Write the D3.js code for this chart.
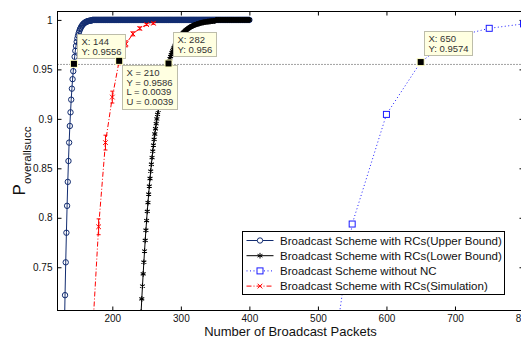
<!DOCTYPE html>
<html>
<head>
<meta charset="utf-8">
<script src="https://cdn.jsdelivr.net/npm/d3@7"></script>
<style>
  html, body { margin: 0; padding: 0; background: #fff; }
  svg { display: block; font-family: "Liberation Sans", Arial, Helvetica, sans-serif; }
</style>
</head>
<body>
<svg id="chart" width="521" height="337"></svg>
<script>
// x ticks / y ticks
const xTicks = [200, 300, 400, 500, 600, 700, 800]
const yTicks = [0.75, 0.8, 0.85, 0.9, 0.95, 1]
const yTickLabels = ['0.75', '0.8', '0.85', '0.9', '0.95', '1']

// upper bound: one value per packet count, starting at 130
const upperStart = 130
const upperRise = [
  0.685, 0.7218, 0.755, 0.7849, 0.8121, 0.8363, 0.8574, 0.876, 0.8928, 0.9066,
  0.9194, 0.9305, 0.9401, 0.9482, 0.9556, 0.9627, 0.9687, 0.9737, 0.9779, 0.9814,
  0.9844, 0.9869, 0.989, 0.9908, 0.9922, 0.9935, 0.9945, 0.9954, 0.9961, 0.9968,
  0.9973, 0.9977, 0.9981, 0.9984, 0.9986, 0.9989, 0.999, 0.9992, 0.9993, 0.9994,
  0.9995
]
const upperPlateau = [171, 400] // stays at 1 from..to

// lower bound: one value per packet count, starting at 242
const lowerStart = 242
const lowerRise = [
  0.7048, 0.718, 0.731, 0.7433, 0.7551, 0.7664, 0.7772, 0.7874, 0.7972, 0.8065,
  0.8154, 0.8239, 0.832, 0.8397, 0.8471, 0.8541, 0.8609, 0.8673, 0.8734, 0.8792,
  0.8847, 0.89, 0.8951, 0.8999, 0.9045, 0.9089, 0.9131, 0.9171, 0.9209, 0.9246,
  0.928, 0.9313, 0.9345, 0.9375, 0.9404, 0.9431, 0.9457, 0.9482, 0.951, 0.9536,
  0.956, 0.9584, 0.9607, 0.9629, 0.9649, 0.9668, 0.9687, 0.9704, 0.972, 0.9735,
  0.975, 0.9764, 0.9777, 0.9789, 0.98, 0.9811, 0.9822, 0.9831, 0.9841, 0.985,
  0.9858, 0.9866, 0.9873, 0.988, 0.9887, 0.9893, 0.9899, 0.9904, 0.991, 0.9915,
  0.9919, 0.9924, 0.9928, 0.9932, 0.9936, 0.9939, 0.9942, 0.9946, 0.9949, 0.9951,
  0.9954, 0.9957, 0.9959, 0.9961, 0.9963, 0.9965, 0.9967, 0.9969, 0.9971, 0.9972,
  0.9974, 0.9975, 0.9977, 0.9978, 0.9979, 0.998, 0.9981, 0.9982, 0.9983, 0.9984,
  0.9985, 0.9986, 0.9987, 0.9988, 0.9988, 0.9989, 0.999, 0.999, 0.9991
]
const lowerPlateau = [351, 400]

// without NC
const ncX = [500, 550, 600, 650, 700, 750, 800]
const ncY = [0.55, 0.7937, 0.9045, 0.9574, 0.983, 0.9915, 0.996]

// simulation with error bars
const simX = [170, 180, 190, 200, 210, 220, 230, 240, 250, 260]
const simY = [0.67, 0.7909, 0.876, 0.922, 0.9586, 0.9758, 0.9859, 0.9914, 0.9953, 0.9966]
const simErr = [0.009, 0.008, 0.0075, 0.006, 0.0039, 0.003, 0.002, 0.0015, 0.001, 0.001]

const refLevel = 0.955

// data tips
const tipX = [144, 210, 282, 650]
const tipY = [0.9556, 0.9586, 0.956, 0.9574]
const tipText = [
  ['X: 144', 'Y: 0.9556'],
  ['X = 210', 'Y = 0.9586', 'L = 0.0039', 'U = 0.0039'],
  ['X: 282', 'Y: 0.956'],
  ['X: 650', 'Y: 0.9574']
]
const tipOffset = [[3, -30], [3, 4], [4, -31], [3, -31]]

const legendNames = [
  'Broadcast Scheme with RCs(Upper Bound)',
  'Broadcast Scheme with RCs(Lower Bound)',
  'Broadcast Scheme without NC',
  'Broadcast Scheme with RCs(Simulation)'
]

const navy = '#122c70'
const ncBlue = '#1a1aff'
const red = '#ff0000'

const svg = d3.select('#chart')
const margin = { left: 57.5, top: 11.5, bottom: 310.5, right: 523.5 }

const x = d3.scaleLinear().domain([120, 800]).range([margin.left, margin.right])
const y = d3.scaleLinear().domain([0.7063, 1.0085]).range([margin.bottom, margin.top])

const upper = upperRise.map((v, i) => [upperStart + i, v])
  .concat(d3.range(upperPlateau[0], upperPlateau[1] + 1).map(n => [n, 1]))
const lower = lowerRise.map((v, i) => [lowerStart + i, v])
  .concat(d3.range(lowerPlateau[0], lowerPlateau[1] + 1).map(n => [n, 1]))
const nc = ncX.map((v, i) => [v, ncY[i]])
const sim = simX.map((v, i) => [v, simY[i], simErr[i]])

svg.append('defs').append('clipPath').attr('id', 'plot-clip')
  .append('rect')
  .attr('x', margin.left).attr('y', margin.top)
  .attr('width', margin.right - margin.left).attr('height', margin.bottom - margin.top)

// axes
const xAxis = g => g
  .attr('transform', `translate(0,${margin.bottom})`)
  .call(d3.axisBottom(x).tickValues(xTicks).tickSizeInner(-4).tickSizeOuter(0).tickPadding(4.5))
const xAxisTop = g => g
  .attr('transform', `translate(0,${margin.top})`)
  .call(d3.axisTop(x).tickValues(xTicks).tickSizeInner(-4).tickSizeOuter(0).tickFormat(''))
const yAxis = g => g
  .attr('transform', `translate(${margin.left},0)`)
  .call(d3.axisLeft(y).tickValues(yTicks).tickSizeInner(-4).tickSizeOuter(0).tickPadding(5)
    .tickFormat((d, i) => yTickLabels[i]))
const yAxisRight = g => g
  .attr('transform', `translate(${margin.right},0)`)
  .call(d3.axisRight(y).tickValues(yTicks).tickSizeInner(-4).tickSizeOuter(0).tickFormat(''))

;[xAxis, xAxisTop, yAxis, yAxisRight].forEach(a => {
  const g = svg.append('g').call(a)
  g.select('.domain').remove()
  g.selectAll('text').attr('font-size', 10).attr('fill', '#111')
    .attr('font-family', '"Liberation Sans", Arial, sans-serif')
})

const plot = svg.append('g').attr('clip-path', 'url(#plot-clip)')

const line = d3.line().x(d => x(d[0])).y(d => y(d[1]))

// upper bound
plot.append('path').datum(upper)
  .attr('fill', 'none').attr('stroke', navy).attr('stroke-width', 1).attr('d', line)
plot.append('g').selectAll('circle').data(upper).join('circle')
  .attr('cx', d => x(d[0])).attr('cy', d => y(d[1])).attr('r', 2.7)
  .attr('fill', 'none').attr('stroke', navy).attr('stroke-width', 1)

// lower bound
const asterisk = d3.symbol(d3.symbolAsterisk, 22)
plot.append('path').datum(lower)
  .attr('fill', 'none').attr('stroke', '#000').attr('stroke-width', 1).attr('d', line)
plot.append('g').selectAll('path').data(lower).join('path')
  .attr('transform', d => `translate(${x(d[0])},${y(d[1])})`)
  .attr('d', asterisk).attr('fill', 'none').attr('stroke', '#000').attr('stroke-width', 1.1)

// without NC
plot.append('path').datum(nc)
  .attr('fill', 'none').attr('stroke', ncBlue).attr('stroke-width', 1)
  .attr('stroke-dasharray', '1,2.5').attr('d', line)
plot.append('g').selectAll('rect').data(nc).join('rect')
  .attr('x', d => x(d[0]) - 3).attr('y', d => y(d[1]) - 3).attr('width', 6).attr('height', 6)
  .attr('fill', '#fff').attr('stroke', ncBlue).attr('stroke-width', 1)

// simulation
plot.append('path').datum(sim)
  .attr('fill', 'none').attr('stroke', red).attr('stroke-width', 1)
  .attr('stroke-dasharray', '5,2,1,2').attr('d', line)
const eb = plot.append('g').selectAll('g').data(sim).join('g')
  .attr('stroke', red).attr('stroke-width', 1).attr('fill', 'none')
eb.append('path').attr('d', d => {
  const cx = x(d[0]), y0 = y(d[1] - d[2]), y1 = y(d[1] + d[2])
  return `M${cx},${y0}V${y1}M${cx - 2},${y0}H${cx + 2}M${cx - 2},${y1}H${cx + 2}`
})
eb.append('path')
  .attr('transform', d => `translate(${x(d[0])},${y(d[1])})`)
  .attr('d', d3.symbol(d3.symbolX, 16))

// reference level
svg.append('line')
  .attr('x1', margin.left).attr('x2', margin.right)
  .attr('y1', y(refLevel)).attr('y2', y(refLevel))
  .attr('stroke', '#444').attr('stroke-width', 1).attr('stroke-dasharray', '1,2')

// frame
svg.append('rect')
  .attr('x', margin.left).attr('y', margin.top)
  .attr('width', margin.right - margin.left).attr('height', margin.bottom - margin.top)
  .attr('fill', 'none').attr('stroke', '#000').attr('stroke-width', 1)

// data tips
tipX.forEach((tx, i) => {
  const px = x(tx), py = y(tipY[i])
  svg.append('rect').attr('x', px - 4).attr('y', py - 4).attr('width', 8).attr('height', 8)
    .attr('fill', '#ffffc0')
  svg.append('rect').attr('x', px - 3).attr('y', py - 3).attr('width', 6).attr('height', 6)
    .attr('fill', '#000')
  const g = svg.append('g')
    .attr('transform', `translate(${Math.round(px + tipOffset[i][0]) + 0.5},${Math.round(py + tipOffset[i][1]) + 0.5})`)
  const box = g.append('rect').attr('fill', '#ffffe1').attr('stroke', '#bdbdaa').attr('stroke-width', 1)
  let w = 0
  tipText[i].forEach((t, j) => {
    const txt = g.append('text').attr('x', 4).attr('y', 10.5 + j * 9.7)
      .attr('font-size', 9.5).attr('fill', '#333').text(t)
    w = Math.max(w, txt.node().getComputedTextLength())
  })
  box.attr('width', Math.round(w + 8)).attr('height', Math.round(tipText[i].length * 9.7 + 5))
})

// legend
const lg = svg.append('g').attr('transform', 'translate(242.5,231.5)')
lg.append('rect').attr('width', 262).attr('height', 63).attr('fill', '#fff')
  .attr('stroke', '#000').attr('stroke-width', 1)
const legendStyles = [
  { stroke: navy, dash: null },
  { stroke: '#000', dash: null },
  { stroke: ncBlue, dash: '1,2.5' },
  { stroke: red, dash: '5,2,1,2' }
]
legendNames.forEach((name, i) => {
  const ly = 9 + i * 15.2
  const s = legendStyles[i]
  lg.append('line').attr('x1', 4).attr('x2', 31).attr('y1', ly).attr('y2', ly)
    .attr('stroke', s.stroke).attr('stroke-width', 1).attr('stroke-dasharray', s.dash)
  if (i === 0) {
    lg.append('circle').attr('cx', 17.5).attr('cy', ly).attr('r', 2.7)
      .attr('fill', '#fff').attr('stroke', navy)
  }
  else if (i === 1) {
    lg.append('path').attr('transform', `translate(17.5,${ly})`).attr('d', asterisk)
      .attr('fill', 'none').attr('stroke', '#000')
  }
  else if (i === 2) {
    lg.append('rect').attr('x', 14.5).attr('y', ly - 3).attr('width', 6).attr('height', 6)
      .attr('fill', '#fff').attr('stroke', ncBlue)
  }
  else {
    lg.append('path').attr('transform', `translate(17.5,${ly})`).attr('d', d3.symbol(d3.symbolX, 16))
      .attr('fill', 'none').attr('stroke', red)
  }
  lg.append('text').attr('x', 37.5).attr('y', ly).attr('dy', '0.36em')
    .attr('font-size', 11.5).attr('fill', '#111').text(name)
})

// axis labels
svg.append('text').attr('x', (margin.left + margin.right) / 2).attr('y', 335.5)
  .attr('text-anchor', 'middle').attr('font-size', 13).attr('fill', '#111')
  .text('Number of Broadcast Packets')

const yl = svg.append('text')
  .attr('transform', `translate(25,${(margin.top + margin.bottom) / 2}) rotate(-90)`)
  .attr('text-anchor', 'middle').attr('fill', '#111')
yl.append('tspan').attr('font-size', 17).text('P')
yl.append('tspan').attr('font-size', 11.5).attr('dy', 5.5).text('overallsucc')
</script>
</body>
</html>
